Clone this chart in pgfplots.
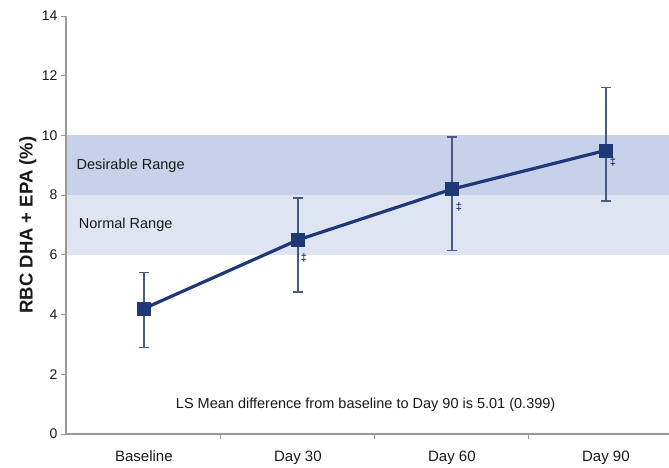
\documentclass[border=0pt]{standalone}
\usepackage{pgfplots}
\pgfplotsset{compat=1.18}
\usepackage{fontspec}
\setmainfont{Liberation Sans}
\definecolor{navy}{HTML}{1F3877}
\definecolor{errc}{HTML}{4A5A80}
\definecolor{bandD}{HTML}{C7D1EA}
\definecolor{bandN}{HTML}{DEE4F2}
\definecolor{axc}{HTML}{999999}
\begin{document}
\begin{tikzpicture}
\begin{axis}[name=ax, at={(66pt,33pt)}, anchor=south west,
  scale only axis, width=603pt, height=418pt,
  xmin=-0.506, xmax=3.41, ymin=0, ymax=14,
  axis x line*=bottom, axis y line*=left,
  axis line style={draw=axc, line width=1.3pt, -},
  ytick={0,2,...,14},
  xtick={0.5,1.5,2.5}, xticklabels={},
  extra x ticks={0,1,2,3},
  extra x tick labels={Baseline,Day 30,Day 60,Day 90},
  extra x tick style={major tick length=0pt},
  tick align=outside, major tick length=5pt,
  tick style={draw=axc, line width=1pt},
  ticklabel style={font=\fontsize{14}{16}\selectfont, text=black!90},
  xticklabel style={yshift=-13pt, font=\fontsize{15}{17}\selectfont},
  /pgf/number format/assume math mode=true,
  ylabel={RBC DHA + EPA (\%)},
  ylabel style={font=\fontsize{18.5}{20}\selectfont\bfseries, text=black!90,
    at={(axis description cs:-0.043,0.5)}, anchor=south},
  clip=false, axis on top,
]
\addplot[draw=none, fill=bandN] coordinates {(-0.506,6) (3.41,6) (3.41,8) (-0.506,8)} -- cycle;
\addplot[draw=none, fill=bandD] coordinates {(-0.506,8) (3.41,8) (3.41,10) (-0.506,10)} -- cycle;
\addplot[navy, line width=3.2pt, mark=square*, mark size=6.5pt,
  mark options={solid, fill=navy, draw=navy, line width=0.5pt},
  error bars/.cd, y dir=both, y explicit,
  error bar style={line width=1.4pt, draw=errc},
  error mark options={rotate=90, mark size=5pt, line width=1.4pt, draw=errc}]
  coordinates {
  (0,4.2)  += (0,1.2) -= (0,1.3)
  (1,6.5)  += (0,1.4) -= (0,1.75)
  (2,8.2)  += (0,1.75) -= (0,2.05)
  (3,9.5)  += (0,2.1) -= (0,1.7)
  };
\node[font=\fontsize{11}{11}\selectfont\bfseries, text=navy, xshift=6pt, yshift=-18pt] at (axis cs:1,6.5) {‡};
\node[font=\fontsize{11}{11}\selectfont\bfseries, text=navy, xshift=7pt, yshift=-18pt] at (axis cs:2,8.2) {‡};
\node[font=\fontsize{11}{11}\selectfont\bfseries, text=navy, xshift=7pt, yshift=-12pt] at (axis cs:3,9.5) {‡};
\node[anchor=west, font=\fontsize{14.5}{16}\selectfont, text=black!90] at (axis cs:-0.46,9.0) {Desirable Range};
\node[anchor=west, font=\fontsize{14.5}{16}\selectfont, text=black!90] at (axis cs:-0.445,7.0) {Normal Range};
\node[font=\fontsize{14.5}{16}\selectfont, text=black!90] at (axis cs:1.44,0.97) {LS Mean difference from baseline to Day 90 is 5.01 (0.399)};
\end{axis}
\pgfresetboundingbox
\path (0pt,0pt) rectangle (669pt,467pt);
\end{tikzpicture}
\end{document}
